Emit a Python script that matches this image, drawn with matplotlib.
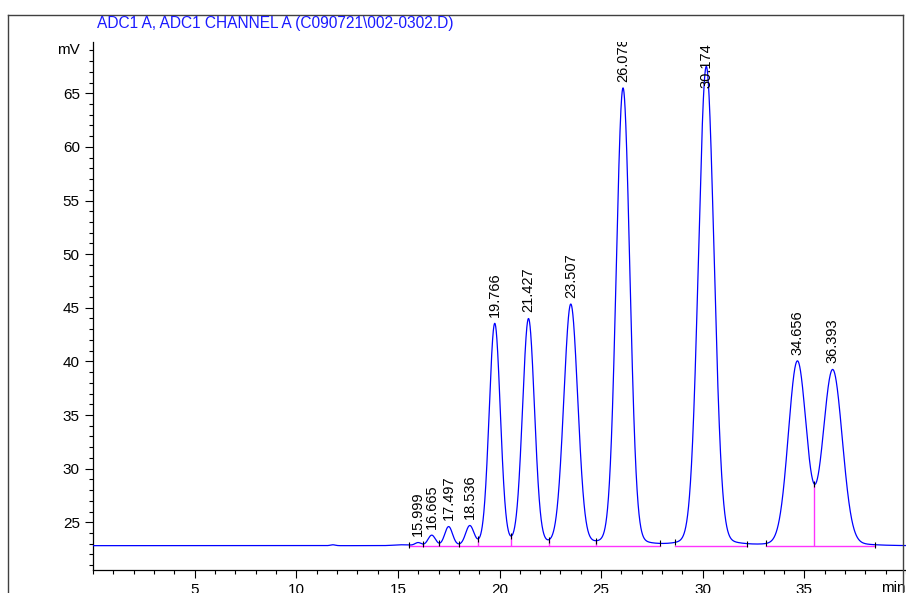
import numpy as np
import matplotlib
import matplotlib.pyplot as plt
from matplotlib.lines import Line2D
from matplotlib.ticker import MultipleLocator

matplotlib.use('agg')

# peak table (retention time in min, apex in mV, width in min)
ret_times = [15.999, 16.665, 17.497, 18.536, 19.766, 21.427, 23.507, 26.078, 30.174, 34.656, 36.393]
apex_mv = [23.10, 23.80, 24.60, 24.70, 43.55, 44.00, 45.35, 65.50, 67.50, 40.05, 39.25]
peak_width = [0.15, 0.18, 0.19, 0.20, 0.27, 0.29, 0.34, 0.33, 0.38, 0.44, 0.47]

# small unlabelled features in the baseline
bump_times = [11.8, 15.2]
bump_mv = [22.90, 22.90]
bump_width = [0.12, 0.40]

baseline_mv = 22.82

# integration events
event_times = [15.53, 16.26, 17.00, 18.00, 18.96, 20.57, 22.43, 24.74, 27.88, 28.63, 32.19, 33.12, 35.47, 38.46]
drop_times = [16.26, 17.00, 18.00, 18.96, 20.57, 22.43, 24.74, 35.47]
seg_start = [15.53, 28.63, 33.12]
seg_end = [27.88, 32.19, 38.46]

BLUE = '#0000ff'
PINK = '#ff33ff'
plt.rcParams['font.family'] = ['Liberation Sans', 'DejaVu Sans']


def shape(t, t0, w):
    # narrow core plus a small broad foot (tailing seen in the trace)
    core = np.exp(-0.5 * ((t - t0) / w) ** 2)
    foot = np.exp(-0.5 * ((t - t0) / (3 * w)) ** 2)
    return 0.985 * core + 0.015 * foot


# solve amplitudes so the trace passes through the read apex values
M = np.array([[shape(ti, tj, wj) for tj, wj in zip(ret_times, peak_width)] for ti in ret_times])
amps = np.linalg.solve(M, np.array(apex_mv) - baseline_mv)

t = np.linspace(0, 40, 8001)
y = np.full_like(t, baseline_mv)
for a, t0, w in zip(amps, ret_times, peak_width):
    y += a * shape(t, t0, w)
for t0, h, w in zip(bump_times, bump_mv, bump_width):
    y += (h - baseline_mv) * np.exp(-0.5 * ((t - t0) / w) ** 2)

fig = plt.figure(figsize=(9.06, 5.93), dpi=100)
ax = fig.add_axes([93 / 906, 23 / 593, 813 / 906, 528 / 593])

ax.plot(t, y, color=BLUE, lw=0.9, zorder=3)

for s, e in zip(seg_start, seg_end):
    ax.plot([s, e], [baseline_mv, baseline_mv], color=PINK, lw=1.0, zorder=2)
ax.vlines(drop_times, baseline_mv, np.interp(drop_times, t, y), color=PINK, lw=1.0, zorder=2)

ev_y = np.interp(event_times, t, y)
ax.vlines(event_times, ev_y - 0.28, ev_y + 0.28, color='black', lw=0.8, zorder=4)

ymax = 69.78
for t0, h in zip(ret_times, apex_mv):
    if h > 66.5:
        txt = ax.annotate(f'{t0:.3f}', xy=(t0, ymax), xytext=(0, -1), textcoords='offset points',
                          rotation=90, ha='center', va='top', fontsize=10.5)
    else:
        txt = ax.annotate(f'{t0:.3f}', xy=(t0, h), xytext=(0, 4.5), textcoords='offset points',
                          rotation=90, ha='center', va='bottom', fontsize=10.5)
    txt.set_clip_on(True)
    txt.set_clip_box(ax.bbox)

ax.set_xlim(0, 40)
ax.set_ylim(20.55, ymax)
ax.xaxis.set_minor_locator(MultipleLocator(1))
ax.yaxis.set_minor_locator(MultipleLocator(1))
ax.set_xticks([5, 10, 15, 20, 25, 30, 35])
ax.set_yticks([25, 30, 35, 40, 45, 50, 55, 60, 65])
ax.tick_params(which='major', length=6, width=0.8, labelsize=11, direction='out')
ax.tick_params(which='minor', length=3, width=0.8, direction='out')
ax.tick_params(axis='y', which='major', pad=3.5)
ax.tick_params(axis='x', which='major', length=5.5, pad=3.5)

for side in ['top', 'right']:
    ax.spines[side].set_visible(False)
for side in ['left', 'bottom']:
    ax.spines[side].set_linewidth(0.9)

ax.annotate('mV', xy=(0, 69.05), xycoords=('axes fraction', 'data'), xytext=(-9.8, 0),
            textcoords='offset points', ha='right', va='center', fontsize=11, annotation_clip=False)
ax.annotate('min', xy=(38.75, 0), xycoords=('data', 'axes fraction'), xytext=(0, -8),
            textcoords='offset points', ha='left', va='top', fontsize=11, annotation_clip=False)

# outer frame of the report page
frame_col = '#404040'
fig.add_artist(Line2D([8.3 / 906, 8.3 / 906], [1 - 15 / 593, -0.1], color=frame_col, lw=1.0))
fig.add_artist(Line2D([8.3 / 906, 903 / 906], [1 - 15 / 593, 1 - 15 / 593], color=frame_col, lw=1.0))
fig.add_artist(Line2D([903 / 906, 903 / 906], [1 - 15 / 593, -0.1], color=frame_col, lw=1.0))

fig.text(97 / 906, 1 - 23.5 / 593, 'ADC1 A, ADC1 CHANNEL A (C090721\\002-0302.D)',
         color='#1a1aff', fontsize=11.2, ha='left', va='center')

fig.savefig('out.png', dpi=100)
